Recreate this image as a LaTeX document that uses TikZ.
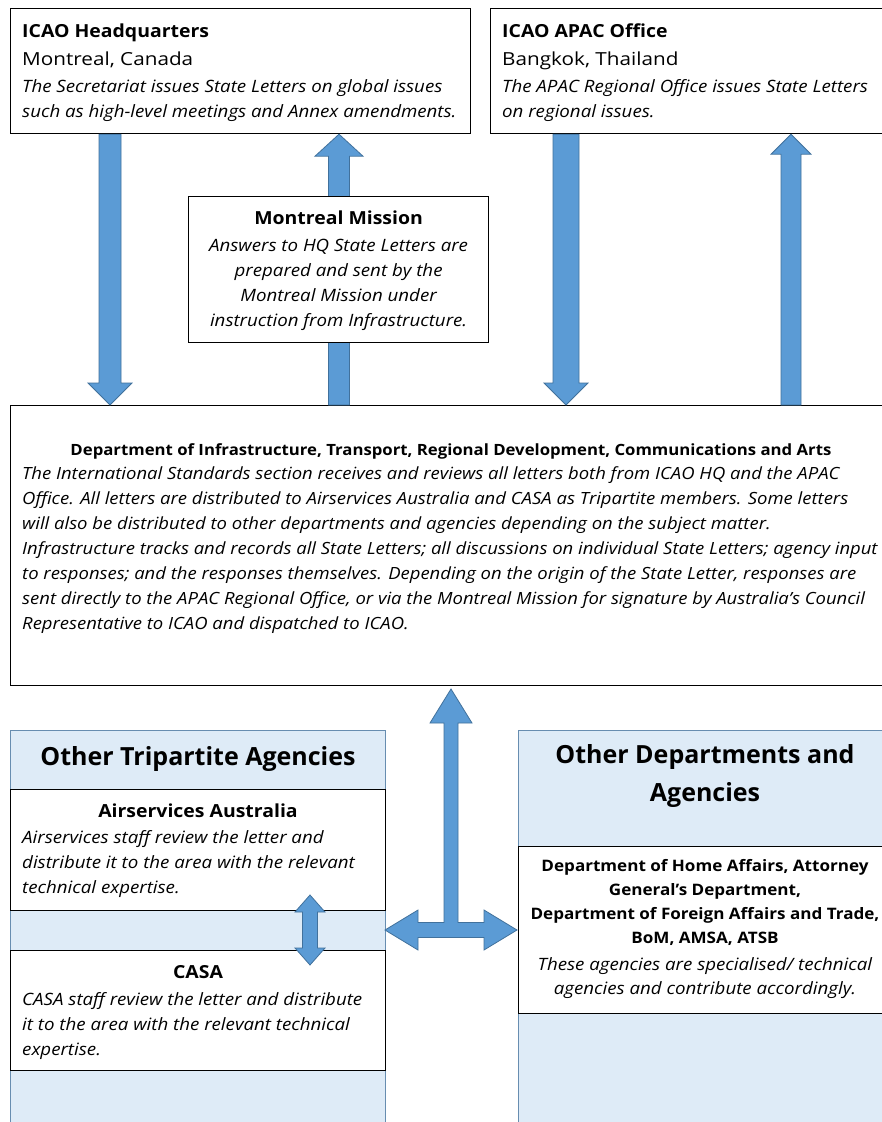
\documentclass[tikz,border=0pt]{standalone}
\usepackage{fontspec}
\setmainfont{Open Sans}[UprightFeatures={FakeStretch=1.15}, BoldFeatures={FakeStretch=1.08}, ItalicFeatures={FakeStretch=1.1}]
\newfontfamily\bigtitle{Open Sans}
\usetikzlibrary{calc}
\definecolor{arrowfill}{HTML}{5B9BD5}
\definecolor{arrowline}{HTML}{41719C}
\definecolor{panelfill}{HTML}{DEEBF7}
\newcommand\vblock[5]{%
  \path[barrow] ($(#1)+({-#3},0)$) -- ($(#2)+({-#3},{-(#5)})$) -- ($(#2)+({-#4},{-(#5)})$) -- (#2)
    -- ($(#2)+({#4},{-(#5)})$) -- ($(#2)+({#3},{-(#5)})$) -- ($(#1)+({#3},0)$) -- cycle;}
\begin{document}
\begin{tikzpicture}[x=1pt,y=-1pt,
  box/.style={draw=black, line width=1.2pt, fill=white, rectangle, inner sep=0pt, anchor=north west},
  panel/.style={draw=arrowline!80, line width=0.9pt, fill=panelfill, rectangle, inner sep=0pt, anchor=north west},
  barrow/.style={fill=arrowfill, draw=arrowline, line width=0.8pt, line join=miter},
  txt/.style={inner sep=0pt, font=\fontsize{17}{25}\selectfont\itshape},
  head/.style={inner sep=0pt, font=\fontsize{18}{25}\selectfont\bfseries},
  bighead/.style={inner sep=0pt, font=\fontsize{25}{38}\selectfont\bigtitle\bfseries}]
\clip (0,0) rectangle (882,1122);
\fill[white] (0,0) rectangle (882,1122);
% x positions of arrows
\coordinate (c1) at (110,0);
\coordinate (c2) at (339,0);
\coordinate (c3) at (566,0);
\coordinate (c4) at (791,0);
% top boxes
\node[box, minimum width=460, minimum height=125] (hq) at (10,8) {};
\node[box, minimum width=402, minimum height=125] (apac) at (490,8) {};
\node[box, minimum width=882, minimum height=280] (dept) at (10,405) {};
% arrows between top boxes and department
\vblock{c1 |- hq.south}{c1 |- dept.north}{11}{22}{22}
\vblock{c2 |- dept.north}{c2 |- hq.south}{10.5}{24}{-22}
\vblock{c3 |- apac.south}{c3 |- dept.north}{13}{22}{22}
\vblock{c4 |- dept.north}{c4 |- apac.south}{10}{20}{-20}
\node[box, minimum width=300, minimum height=146] (mm) at (188,196) {};
% texts top
\node[txt, anchor=north west, align=left] (hqt) at ($(hq.north west)+(12,16)$)
  {{\upshape\bfseries\fontsize{18}{25}\selectfont ICAO Headquarters}\\[3pt]
   {\upshape\fontsize{18}{25}\selectfont Montreal, Canada}\\[2pt]
   The Secretariat issues State Letters on global issues\\
   such as high-level meetings and Annex amendments.};
\node[txt, anchor=north west, align=left] (apact) at ($(apac.north west)+(12,16)$)
  {{\upshape\bfseries\fontsize{18}{25}\selectfont ICAO APAC Office}\\[3pt]
   {\upshape\fontsize{18}{25}\selectfont Bangkok, Thailand}\\[2pt]
   The APAC Regional Office issues State Letters\\
   on regional issues.};
\node[txt, anchor=north, align=center] (mmt) at ($(mm.north)+(0,14.5)$)
  {{\upshape\bfseries\fontsize{18}{25}\selectfont Montreal Mission}\\[2pt]
   Answers to HQ State Letters are\\
   prepared and sent by the\\
   Montreal Mission under\\
   instruction from Infrastructure.};
\node[head, font=\fontsize{15.5}{25}\selectfont\bfseries] (deptt) at (451,451)
  {Department of Infrastructure, Transport, Regional Development, Communications and Arts};
\node[txt, anchor=north west, align=left, font=\fontsize{16.8}{25}\selectfont\itshape] (deptp) at (22,466)
  {The International Standards section receives and reviews all letters both from ICAO HQ and the APAC\\
   Office. All letters are distributed to Airservices Australia and CASA as Tripartite members. Some letters\\
   will also be distributed to other departments and agencies depending on the subject matter.\\
   Infrastructure tracks and records all State Letters; all discussions on individual State Letters; agency input\\
   to responses; and the responses themselves. Depending on the origin of the State Letter, responses are\\
   sent directly to the APAC Regional Office, or via the Montreal Mission for signature by Australia’s Council\\
   Representative to ICAO and dispatched to ICAO.};
% lower panels
\node[panel, minimum width=375, minimum height=400] (tpa) at (10,730) {};
\node[panel, minimum width=374, minimum height=400] (oda) at (518,730) {};
\node[bighead] (tpat) at (198,759) {Other Tripartite Agencies};
\node[bighead, align=center] (odat) at (705,776) {Other Departments and\\Agencies};
\node[box, minimum width=375, minimum height=121] (as) at (10,789) {};
\node[box, minimum width=375, minimum height=120] (casa) at (10,950) {};
\node[box, minimum width=374, minimum height=167] (ha) at (518,846) {};
\node[head] (ast) at (198,811) {Airservices Australia};
\node[txt, anchor=north west, align=left] (asp) at (22,830)
  {Airservices staff review the letter and\\
   distribute it to the area with the relevant\\
   technical expertise.};
\node[head] (casat) at (198,972) {CASA};
\node[txt, anchor=north west, align=left] (casap) at (22,992)
  {CASA staff review the letter and distribute\\
   it to the area with the relevant technical\\
   expertise.};
\node[txt, anchor=north, align=center, font=\fontsize{17}{24}\selectfont\itshape] (hat) at (705,859.5)
  {{\upshape\bfseries\fontsize{15.8}{24}\selectfont Department of Home Affairs, Attorney}\\
   {\upshape\bfseries\fontsize{15.8}{24}\selectfont General’s Department,}\\
   {\upshape\bfseries\fontsize{15.8}{24}\selectfont Department of Foreign Affairs and Trade,}\\
   {\upshape\bfseries\fontsize{15.8}{24}\selectfont BoM, AMSA, ATSB}\\[3pt]
   These agencies are specialised/ technical\\
   agencies and contribute accordingly.};
% small double arrow between Airservices and CASA
\path[barrow] (310,895) -- ++(15,17) -- ++(-7.5,0) -- ++(0,36) -- ++(7.5,0) -- ++(-15,17)
  -- ++(-15,-17) -- ++(7.5,0) -- ++(0,-36) -- ++(-7.5,0) -- cycle;
% three-way arrow
\coordinate (hub) at (451,930);
\path[barrow] (hub) ++(0,-241) -- ++(21,34) -- ++(-14,0) -- ++(0,199.5) -- ++(26,0) -- ++(0,-12.5)
  -- ++(33,20) -- ++(-33,20) -- ++(0,-12.5) -- ++(-66,0) -- ++(0,12.5) -- ++(-33,-20)
  -- ++(33,-20) -- ++(0,12.5) -- ++(26,0) -- ++(0,-199.5) -- ++(-14,0) -- cycle;
\end{tikzpicture}
\end{document}
